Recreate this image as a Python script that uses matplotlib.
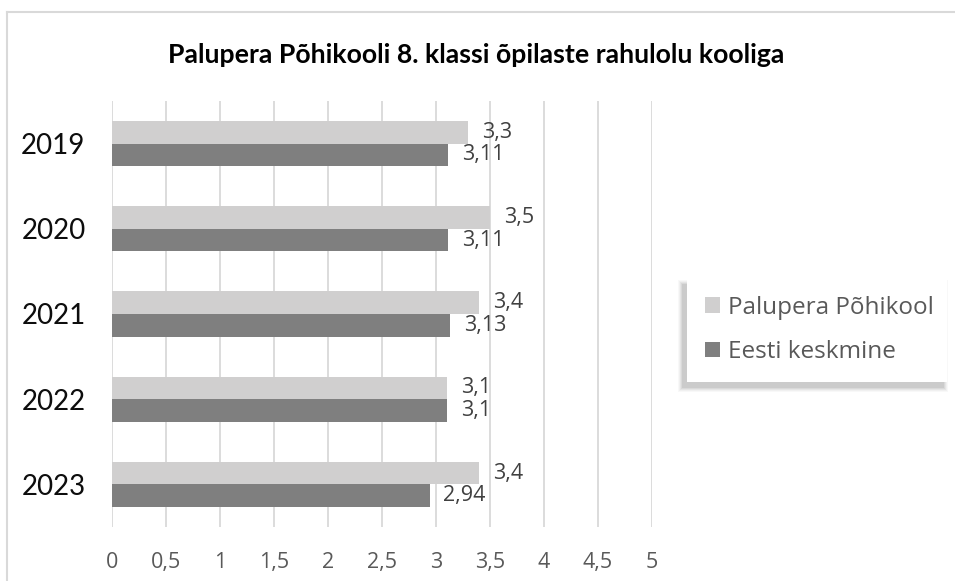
import matplotlib.pyplot as plt
import numpy as np
from matplotlib.lines import Line2D
from matplotlib.patches import Patch, Rectangle

years = ["2019", "2020", "2021", "2022", "2023"]
palupera = [3.3, 3.5, 3.4, 3.1, 3.4]
eesti = [3.11, 3.11, 3.13, 3.1, 2.94]
xticks = [0, 0.5, 1, 1.5, 2, 2.5, 3, 3.5, 4, 4.5, 5]
series_names = ["Palupera Põhikool", "Eesti keskmine"]
title = "Palupera Põhikooli 8. klassi õpilaste rahulolu kooliga"

plt.rcParams['font.family'] = ['Lato', 'DejaVu Sans']
UI = ['Open Sans', 'DejaVu Sans']

W, H = 955, 581
fig = plt.figure(figsize=(W/100, H/100), dpi=100)
ax = fig.add_axes([112/W, 1-527/H, (652-112)/W, (527-101)/H])

light = "#D0CFCF"
dark = "#7F7F7F"
h = 0.265
y = np.arange(len(years))
ax.barh(y - h/2, palupera, height=h, color=light, zorder=3)
ax.barh(y + h/2, eesti, height=h, color=dark, zorder=3)

def fmt(v):
    s = f"{v:.2f}".rstrip('0').rstrip('.')
    return s.replace('.', ',')

for yi, v in zip(y, palupera):
    ax.annotate(fmt(v), (v, yi - h/2), xytext=(10, 0), textcoords='offset points',
                va='center', ha='left', fontsize=15.5, color='#404040', family=UI)
for yi, v in zip(y, eesti):
    ax.annotate(fmt(v), (v, yi + h/2), xytext=(10, 0), textcoords='offset points',
                va='center', ha='left', fontsize=15.5, color='#404040', family=UI)

ax.set_xlim(0, 5)
ax.set_ylim(len(years) - 0.5, -0.5)
ax.set_xticks(xticks)
ax.set_xticklabels([fmt(t) for t in xticks], fontsize=15.5, color='#595959', family=UI)
ax.set_yticks(y)
ax.set_yticklabels(years, fontsize=20, color='#0D0D0D')
ax.tick_params(axis='both', length=0)
ax.tick_params(axis='x', pad=18)
ax.tick_params(axis='y', pad=19)
ax.grid(axis='x', color='#D9D9D9', linewidth=1.3, zorder=0)
for s in ax.spines.values():
    s.set_visible(False)

fig.text(476/W, 1-55/H, title, ha='center', va='center', fontsize=19.2,
         fontweight='bold', color='#000000')

# legend box with soft shadow (offset to lower-left)
lx0, lx1, ly0, ly1 = 687, 947, 280, 382
for i, a in enumerate([0.04, 0.05, 0.07, 0.09, 0.11]):
    grow = 5 - i
    fig.add_artist(Rectangle(((lx0 - 4 - grow)/W, 1-(ly1 + 5 + grow)/H),
                             (lx1 - lx0 + 2*grow)/W, (ly1 - ly0 + 2*grow)/H,
                             transform=fig.transFigure, facecolor='#606060',
                             edgecolor='none', alpha=a, zorder=5))
fig.add_artist(Rectangle((lx0/W, 1-ly1/H), (lx1-lx0)/W, (ly1-ly0)/H,
                         transform=fig.transFigure, facecolor='white',
                         edgecolor='none', zorder=6))

handles = [Patch(facecolor=light, edgecolor='none'), Patch(facecolor=dark, edgecolor='none')]
leg = fig.legend(handles, series_names, loc='center left', bbox_to_anchor=(693/W, 1-330/H),
                 frameon=False, labelcolor='#595959', handlelength=0.6,
                 handleheight=0.6, handletextpad=0.35, labelspacing=0.85, borderpad=0.0,
                 prop={'family': UI, 'size': 17.5})
leg.set_zorder(7)

fig.add_artist(Line2D([7/W, 1], [1-12/H, 1-12/H], color='#D9D9D9', lw=1.5,
                      transform=fig.transFigure))
fig.add_artist(Line2D([7/W, 7/W], [0, 1-12/H], color='#D9D9D9', lw=1.5,
                      transform=fig.transFigure))

fig.savefig("out.png", dpi=100)
